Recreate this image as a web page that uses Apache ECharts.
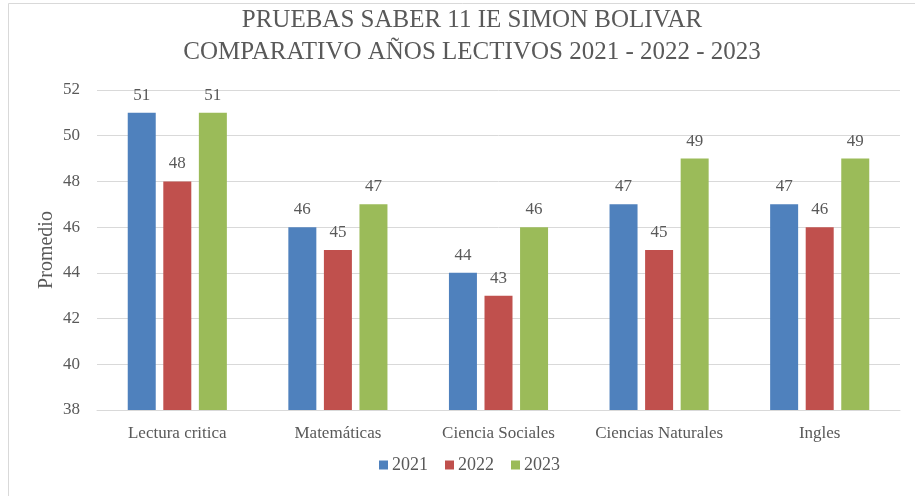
<!DOCTYPE html>
<html><head><meta charset="utf-8">
<script src="https://cdn.jsdelivr.net/npm/echarts@6/dist/echarts.min.js"></script>
<style>html,body{margin:0;padding:0;background:#fff}#c{width:915px;height:496px}</style>
</head><body><div id="c"></div>
<script>
const categories = ['Lectura critica', 'Matemáticas', 'Ciencia Sociales', 'Ciencias Naturales', 'Ingles'];
const s2021 = [51, 46, 44, 47, 47];
const s2022 = [48, 45, 43, 45, 46];
const s2023 = [51, 47, 46, 49, 49];
const seriesNames = ['2021', '2022', '2023'];
const colors = ['#4F81BD', '#C0504D', '#9BBB59'];
const FONT = 'Liberation Serif';
const txt = '#595959';

const chart = echarts.init(document.getElementById('c'));
const mk = (name, data, color) => ({
  name, type: 'bar', data, barWidth: 28, barGap: '27%',
  itemStyle: { color },
  label: { show: true, position: 'top', distance: 9, color: txt, fontFamily: FONT, fontSize: 17 }
});
chart.setOption({
  animation: false,
  backgroundColor: '#fff',
  textStyle: { fontFamily: FONT },
  title: {
    text: 'PRUEBAS SABER 11 IE SIMON BOLIVAR\nCOMPARATIVO AÑOS LECTIVOS 2021 - 2022 - 2023',
    left: 467, textAlign: 'center', top: -1,
    textStyle: { fontFamily: FONT, fontSize: 25, fontWeight: 'normal', color: txt, lineHeight: 32 }
  },
  graphic: [{ type: 'rect', shape: { x: 8.5, y: 3.5, width: 940, height: 520 }, style: { fill: 'none', stroke: '#D9D9D9', lineWidth: 1 }, silent: true }],
  legend: {
    bottom: 17, left: 374, itemWidth: 9, itemHeight: 9, itemGap: 17, icon: 'rect',
    data: seriesNames,
    textStyle: { fontFamily: FONT, fontSize: 18, color: txt, padding: [0, 0, 0, -1] }
  },
  grid: { left: 97, right: 15, top: 90, bottom: 86, containLabel: false },
  xAxis: {
    type: 'category', data: categories,
    axisLine: { lineStyle: { color: '#D9D9D9' } },
    axisTick: { show: false },
    axisLabel: { color: txt, fontFamily: FONT, fontSize: 17, margin: 15, interval: 0 }
  },
  yAxis: {
    type: 'value', min: 38, max: 52, interval: 2,
    name: 'Promedio', nameLocation: 'middle', nameGap: 40, nameRotate: 90, nameMoveOverlap: false,
    nameTextStyle: { color: txt, fontFamily: FONT, fontSize: 20 },
    axisLine: { show: false }, axisTick: { show: false },
    axisLabel: { color: txt, fontFamily: FONT, fontSize: 17, margin: 17 },
    splitLine: { lineStyle: { color: '#D9D9D9' } }
  },
  series: [mk(seriesNames[0], s2021, colors[0]), mk(seriesNames[1], s2022, colors[1]), mk(seriesNames[2], s2023, colors[2])]
});
</script></body></html>
